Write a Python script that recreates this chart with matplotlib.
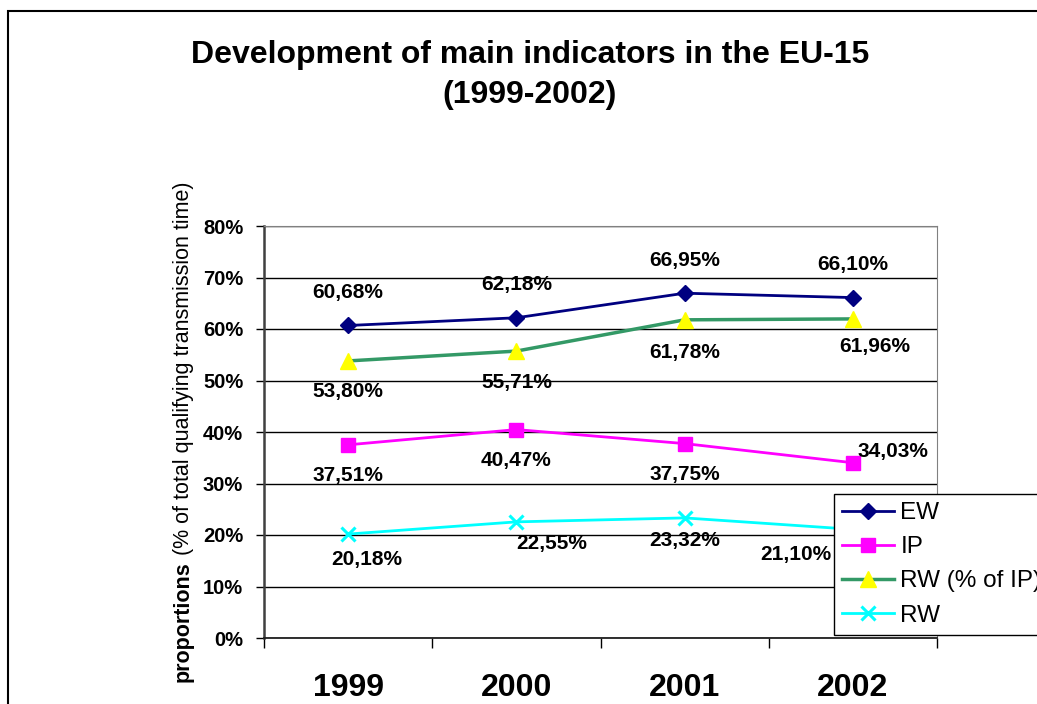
import matplotlib
matplotlib.use("Agg")
import matplotlib.pyplot as plt
from matplotlib.patches import Rectangle
from matplotlib.ticker import FixedLocator, FuncFormatter

plt.rcParams['font.family'] = ['Liberation Sans', 'DejaVu Sans']

years = ["1999", "2000", "2001", "2002"]
ew = [60.68, 62.18, 66.95, 66.10]
ip = [37.51, 40.47, 37.75, 34.03]
rw_ip = [53.80, 55.71, 61.78, 61.96]
rw = [20.18, 22.55, 23.32, 21.10]
series_names = ["EW", "IP", "RW (% of IP)", "RW"]

W, H = 1037, 704
fig = plt.figure(figsize=(W / 100, H / 100), dpi=100)

# outer frame
fig.patches.append(Rectangle((8 / W, -0.1), 1.2, 1 - 11 / H + 0.1, transform=fig.transFigure,
                             fill=False, edgecolor='black', linewidth=1.5))

ax = fig.add_axes([264 / W, 1 - 638 / H, (937 - 264) / W, (638 - 226) / H])
x = list(range(len(years)))

styles = [
    dict(color='#000080', marker='D', markersize=7.7, markerfacecolor='#000080', markeredgecolor='#000080', lw=2),
    dict(color='#FF00FF', marker='s', markersize=10, markerfacecolor='#FF00FF', markeredgecolor='#FF00FF', lw=2),
    dict(color='#339966', marker='^', markersize=12, markerfacecolor='#FFFF00', markeredgecolor='#FFFF00', lw=2.5),
    dict(color='#00FFFF', marker='x', markersize=10, markeredgewidth=2.2, markeredgecolor='#00FFFF', lw=2),
]
data = [ew, ip, rw_ip, rw]
for vals, name, st in zip(data, series_names, styles):
    ax.plot(x, vals, label=name, zorder=3, **st)

# data labels (pixel offsets)
offsets = {
    0: [(0, 33), (0, 33), (0, 33), (0, 33)],
    1: [(0, -31), (0, -31), (0, -31), (40, 11)],
    2: [(0, -31), (0, -31), (0, -33), (22, -28)],
    3: [(19, -25), (35, -22), (0, -23), (-57, -25)],
}
for si, vals in enumerate(data):
    for i, v in enumerate(vals):
        dx, dy = offsets[si][i]
        ax.annotate(f"{v:.2f}%".replace('.', ','), (i, v), xytext=(dx, dy),
                    textcoords='offset pixels', ha='center', va='center',
                    fontsize=15, fontweight='bold', zorder=4)

ax.set_xlim(-0.5, 3.5)
ax.set_ylim(0, 80)
ax.yaxis.set_major_locator(FixedLocator(range(0, 81, 10)))
ax.yaxis.set_major_formatter(FuncFormatter(lambda v, p: f"{v:.0f}%"))
ax.grid(axis='y', color='black', linewidth=1, zorder=1)
ax.set_axisbelow(True)
ax.set_xticks(x)
ax.set_xticklabels(years, fontsize=23, fontweight='bold')
ax.set_xticks([-0.5, 0.5, 1.5, 2.5, 3.5], minor=True)
ax.tick_params(axis='x', which='major', length=0, pad=25)
ax.tick_params(axis='x', which='minor', length=7, width=1, color='black', direction='out')
ax.tick_params(axis='y', length=6, width=1, pad=9, labelsize=14.5, direction='out')
for lab in ax.get_yticklabels():
    lab.set_fontweight('bold')

ax.spines['top'].set_color('#808080')
ax.spines['right'].set_color('#808080')
ax.spines['left'].set_color('#404040')
ax.spines['left'].set_linewidth(1.8)
ax.spines['bottom'].set_color('#202020')
ax.spines['bottom'].set_linewidth(1.3)

leg = ax.legend(loc='upper left', bbox_to_anchor=(834 / W, 1 - 494 / H),
                bbox_transform=fig.transFigure, fontsize=17.5, frameon=True,
                fancybox=False, borderaxespad=0, borderpad=0.33,
                handlelength=2.15, handletextpad=0.25, labelspacing=0.5)
leg.get_frame().set_edgecolor('black')
leg.get_frame().set_linewidth(1)
leg.get_frame().set_alpha(1)
leg.set_zorder(10)

# title
fig.text(530 / W, 1 - 55 / H, "Development of main indicators in the EU-15",
         ha='center', va='center', fontsize=23, fontweight='bold')
fig.text(530 / W, 1 - 95 / H, "(1999-2002)",
         ha='center', va='center', fontsize=23, fontweight='bold')

# y label with mixed weights
fig.canvas.draw()
r = fig.canvas.get_renderer()
t1 = fig.text(183 / W, 0, "proportions", rotation=90, ha='center', va='bottom',
              fontsize=15.5, fontweight='bold')
t2 = fig.text(183 / W, 0, " (% of total qualifying transmission time)", rotation=90,
              ha='center', va='bottom', fontsize=15.5)
h1 = t1.get_window_extent(r).height
h2 = t2.get_window_extent(r).height
total = h1 + h2
center = (1 - 432 / H) * H
start = center - total / 2
t1.set_y(start / H)
t2.set_y((start + h1) / H)

fig.savefig("out.png", dpi=100)
